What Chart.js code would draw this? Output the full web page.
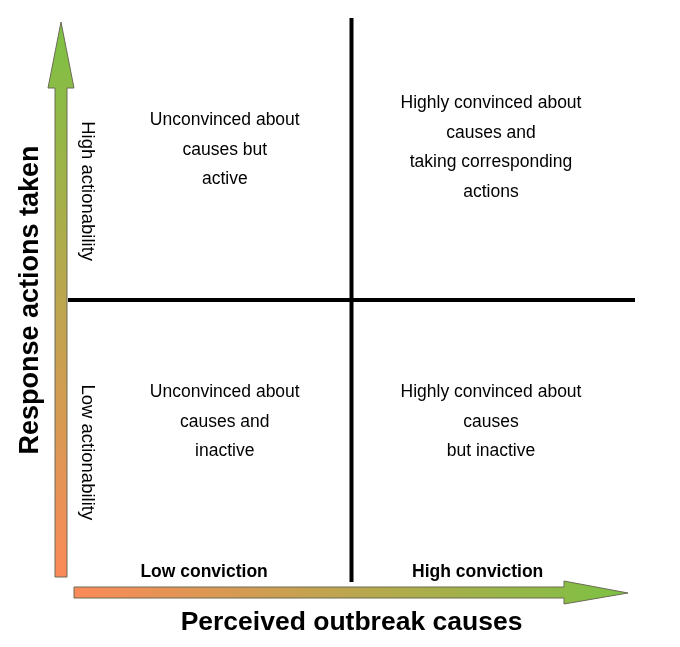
<!DOCTYPE html>
<html>
<head>
<meta charset="utf-8">
<script src="https://cdn.jsdelivr.net/npm/chart.js@4"></script>
<style>
  html, body { margin: 0; padding: 0; background: #fff; }
  #wrap { width: 680px; height: 647px; }
</style>
</head>
<body>
<div id="wrap"><canvas id="quadChart"></canvas></div>
<script>
// quadrant texts, one array of lines per quadrant
const quadrantTopLeft = ["Unconvinced about", "causes but", "active"];
const quadrantTopRight = ["Highly convinced about", "causes and", "taking corresponding", "actions"];
const quadrantBottomLeft = ["Unconvinced about", "causes and", "inactive"];
const quadrantBottomRight = ["Highly convinced about", "causes", "but inactive"];

const xTitle = "Perceived outbreak causes";
const yTitle = "Response actions taken";
const xTickLabels = ["Low conviction", "High conviction"];
const yTickLabels = ["Low actionability", "High actionability"];

// dividing lines at the middle of both axes
const dividerX = [{ x: 0, y: -1 }, { x: 0, y: 1 }];
const dividerY = [{ x: -1, y: 0 }, { x: 1, y: 0 }];

const ORANGE = "#fb8a59";
const GREEN = "#7cc243";

const quadrantPlugin = {
    id: "quadrantPlugin",
    beforeDatasetsDraw(chart) {
        const ctx = chart.ctx;
        const xs = chart.scales.x, ys = chart.scales.y;
        const left = xs.getPixelForValue(-1);
        const bottom = ys.getPixelForValue(-1);

        ctx.save();
        ctx.strokeStyle = "#6b6b55";
        ctx.lineWidth = 1;

        // vertical arrow
        const vx = left - 7;
        let g = ctx.createLinearGradient(0, bottom - 5, 0, 22);
        g.addColorStop(0, ORANGE);
        g.addColorStop(1, GREEN);
        ctx.fillStyle = g;
        ctx.beginPath();
        ctx.moveTo(vx - 6, bottom - 5);
        ctx.lineTo(vx - 6, 88);
        ctx.lineTo(vx - 13, 88);
        ctx.lineTo(vx, 22);
        ctx.lineTo(vx + 13, 88);
        ctx.lineTo(vx + 6, 88);
        ctx.lineTo(vx + 6, bottom - 5);
        ctx.closePath();
        ctx.fill();
        ctx.stroke();

        // horizontal arrow
        const hy = bottom + 11;
        g = ctx.createLinearGradient(left + 6, 0, 628, 0);
        g.addColorStop(0, ORANGE);
        g.addColorStop(1, GREEN);
        ctx.fillStyle = g;
        ctx.beginPath();
        ctx.moveTo(left + 6, hy - 6);
        ctx.lineTo(564, hy - 6);
        ctx.lineTo(564, hy - 12);
        ctx.lineTo(628, hy);
        ctx.lineTo(564, hy + 11);
        ctx.lineTo(564, hy + 5);
        ctx.lineTo(left + 6, hy + 5);
        ctx.closePath();
        ctx.fill();
        ctx.stroke();
        ctx.restore();
    },
    afterDraw(chart) {
        const ctx = chart.ctx;
        const xs = chart.scales.x, ys = chart.scales.y;
        const family = "'Liberation Sans', Arial, sans-serif";

        ctx.save();
        ctx.fillStyle = "#000";
        ctx.textAlign = "center";
        ctx.textBaseline = "middle";

        // quadrant texts
        ctx.font = "17.5px " + family;
        const blocks = [
            [quadrantTopLeft, -0.447, 0.532],
            [quadrantTopRight, 0.492, 0.54],
            [quadrantBottomLeft, -0.447, -0.433],
            [quadrantBottomRight, 0.492, -0.433]
        ];
        blocks.forEach(([lines, qx, qy]) => {
            const cx = xs.getPixelForValue(qx);
            const cy = ys.getPixelForValue(qy);
            const lh = 29.5;
            lines.forEach((t, i) => {
                ctx.fillText(t, cx, cy + (i - (lines.length - 1) / 2) * lh);
            });
        });

        // x tick labels
        ctx.font = "bold 17.5px " + family;
        ctx.fillText(xTickLabels[0], xs.getPixelForValue(-0.52), 572);
        ctx.fillText(xTickLabels[1], xs.getPixelForValue(0.445), 572);

        // x title
        ctx.font = "bold 26.5px " + family;
        ctx.fillText(xTitle, xs.getPixelForValue(0), 623);

        // y tick labels (rotated, reading downwards)
        ctx.font = "18.5px " + family;
        [[yTickLabels[1], 0.386], [yTickLabels[0], -0.54]].forEach(([t, v]) => {
            ctx.save();
            ctx.translate(87, ys.getPixelForValue(v));
            ctx.rotate(Math.PI / 2);
            ctx.fillText(t, 0, 0);
            ctx.restore();
        });

        // y title (rotated, reading upwards)
        ctx.font = "bold 27px " + family;
        ctx.save();
        ctx.translate(31, ys.getPixelForValue(0));
        ctx.rotate(-Math.PI / 2);
        ctx.fillText(yTitle, 0, 0);
        ctx.restore();

        ctx.restore();
    }
};

const ctx = document.getElementById("quadChart").getContext("2d");

new Chart(ctx, {
    type: "scatter",
    data: {
        datasets: [
            {
                data: dividerX,
                showLine: true,
                borderColor: "#000",
                borderWidth: 4,
                pointRadius: 0
            },
            {
                data: dividerY,
                showLine: true,
                borderColor: "#000",
                borderWidth: 4,
                pointRadius: 0
            }
        ]
    },
    options: {
        responsive: true,
        maintainAspectRatio: false,
        animation: false,
        layout: { padding: { left: 68, right: 45, top: 18, bottom: 65 } },
        plugins: {
            legend: { display: false },
            tooltip: { enabled: false }
        },
        scales: {
            x: { type: "linear", min: -1, max: 1, display: false },
            y: { type: "linear", min: -1, max: 1, display: false }
        }
    },
    plugins: [quadrantPlugin]
});
</script>
</body>
</html>
